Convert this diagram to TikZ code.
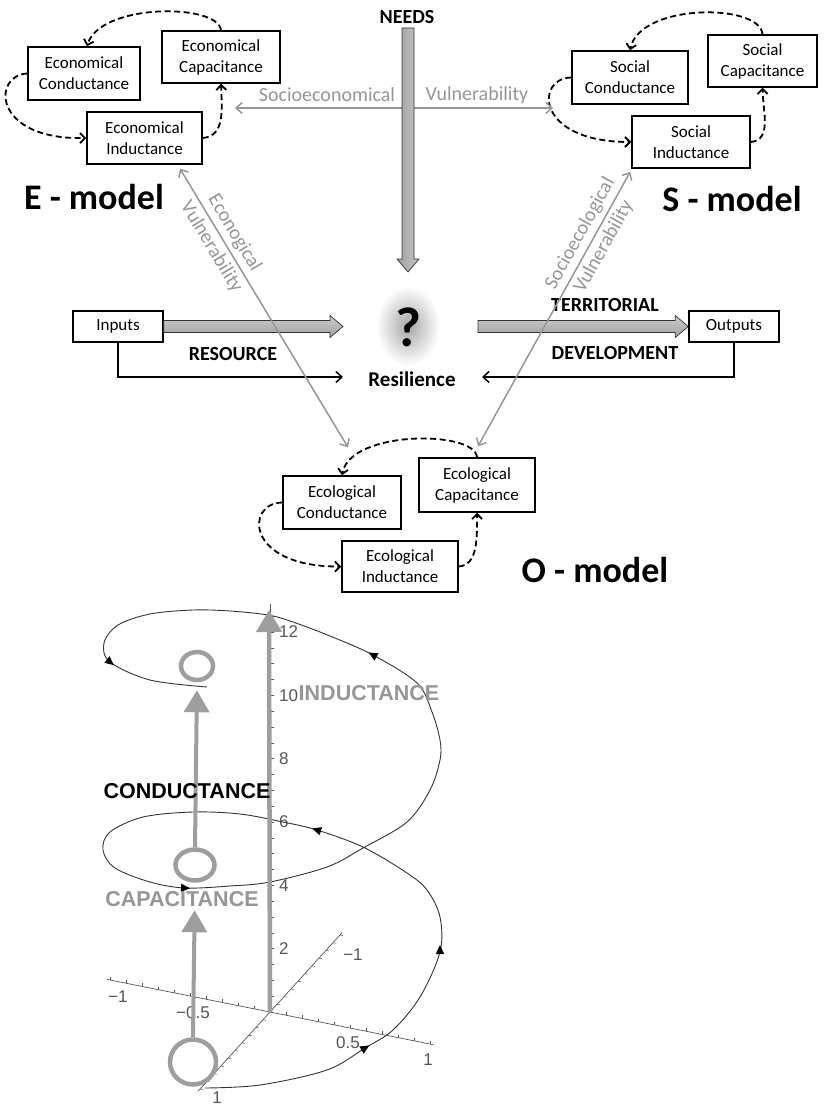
\documentclass[tikz,border=0pt]{standalone}
\usepackage{fontspec}
\setmainfont{Carlito}
\newfontfamily\helv{Liberation Sans}
\usetikzlibrary{arrows.meta,calc,shapes.geometric}
\definecolor{vgray}{RGB}{150,150,150}
\definecolor{pgray}{RGB}{158,158,158}
\definecolor{axgray}{RGB}{85,85,85}
\newcommand{\blockH}[2]{\path[blockh] ($(#1)+(0,-6)$) -- ($(#2)+(-13,-6)$) -- ($(#2)+(-13,-11)$) -- (#2) -- ($(#2)+(-13,11)$) -- ($(#2)+(-13,6)$) -- ($(#1)+(0,6)$) -- cycle;}
\newcommand{\blockV}[2]{\path[blockv] ($(#1)+(-6,0)$) -- ($(#2)+(-6,-13)$) -- ($(#2)+(-11,-13)$) -- (#2) -- ($(#2)+(11,-13)$) -- ($(#2)+(6,-13)$) -- ($(#1)+(6,0)$) -- cycle;}
\begin{document}
\begin{tikzpicture}[x=1pt,y=-1pt,
  box/.style={draw,line width=1.5pt,align=center,inner sep=0pt,font=\fontsize{17}{21}\selectfont},
  dashlink/.style={line width=1.8pt,dash pattern=on 6pt off 3.5pt,-{Straight Barb[length=5pt,width=10pt]}},
  vuln/.style={vgray,line width=1.5pt,{Straight Barb[length=6pt,width=11pt]}-{Straight Barb[length=6pt,width=11pt]}},
  vlabel/.style={text=vgray,font=\fontsize{20}{22}\selectfont,align=center,inner sep=0pt},
  rlabel/.style={text=vgray,font=\fontsize{20}{27}\selectfont,align=center,inner sep=0pt},
  blabel/.style={font=\bfseries\fontsize{20}{24}\selectfont,inner sep=0pt},
  model/.style={font=\bfseries\fontsize{36}{40}\selectfont,inner sep=0pt},
  thinarrow/.style={line width=1.5pt,-{Straight Barb[length=6pt,width=11pt]}},
  blockh/.style={draw=black!80,line width=0.7pt,top color=gray!40,bottom color=gray!75},
  blockv/.style={draw=black!80,line width=0.7pt,left color=gray!75,right color=gray!45},
  ring/.style={ellipse,draw=pgray,line width=4.5pt,inner sep=0pt},
  plotlab/.style={text=axgray,font=\helv\fontsize{17}{18}\selectfont,inner sep=0pt},
  biglab/.style={font=\helv\bfseries\fontsize{21.5}{24}\selectfont,inner sep=0pt},
  thickgray/.style={pgray,line width=4.5pt,-{Triangle[width=25pt,length=22pt]}},
  axis/.style={axgray,line width=0.7pt}
]
\useasboundingbox (0,0) rectangle (824,1107);

% ---------- E model ----------
\node[box,minimum width=112pt,minimum height=53pt] (condE) at (84,73.5) {Economical\\Conductance};
\node[box,minimum width=118pt,minimum height=52pt] (capE) at (221,57) {Economical\\Capacitance};
\node[box,minimum width=115pt,minimum height=52pt] (indE) at (144.5,138) {Economical\\Inductance};
\draw[dashlink] (capE.north) .. controls (218,3) and (100,3) .. ([xshift=3pt]condE.north);
\draw[dashlink] (condE.west) .. controls (-8,75) and (-8,140) .. (indE.west);
\draw[dashlink] (indE.east) .. controls (225,136) and (222,110) .. (capE.south);
\node[model] (emodel) at (94,197) {E - model};

% ---------- S model ----------
\node[box,minimum width=116pt,minimum height=53pt] (condS) at (630,77.5) {Social\\Conductance};
\node[box,minimum width=109pt,minimum height=52pt] (capS) at (762.5,61) {Social\\Capacitance};
\node[box,minimum width=118pt,minimum height=52pt] (indS) at (691,142) {Social\\Inductance};
\draw[dashlink] (capS.north) .. controls (760,3) and (640,3) .. (condS.north);
\draw[dashlink] (condS.west) .. controls (535,78) and (535,142) .. (indS.west);
\draw[dashlink] (indS.east) .. controls (772,140) and (763,112) .. (capS.south);
\node[model] (smodel) at (732,199) {S - model};

% ---------- O model ----------
\node[box,minimum width=118pt,minimum height=53pt] (condO) at (342,502.5) {Ecological\\Conductance};
\node[box,minimum width=116pt,minimum height=54pt] (capO) at (477,485) {Ecological\\Capacitance};
\node[box,minimum width=116pt,minimum height=51pt] (indO) at (400,566.5) {Ecological\\Inductance};
\draw[dashlink] (capO.north) .. controls (475,430) and (350,430) .. (condO.north);
\draw[dashlink] (condO.west) .. controls (245,503) and (245,567) .. (indO.west);
\draw[dashlink] (indO.east) .. controls (478,565) and (477,538) .. (capO.south);
\node[model] (omodel) at (595,570) {O - model};

% ---------- centre ----------
\coordinate (seL) at (235,108);
\coordinate (seR) at (553,108);
\draw[vuln] (seL) -- (seR);
\node[vlabel] (socioeco) at (327,95) {Socioeconomical};
\node[vlabel] (socioeco2) at (477,95) {Vulnerability};

\node[blabel] (needs) at (407,17) {NEEDS};
\coordinate (needsTop) at (408,28);
\coordinate (needsTip) at (408,272);
\blockV{needsTop}{needsTip}

\shade[inner color=gray!70,outer color=white] (408,326) ellipse (32pt and 40pt);
\node[font=\bfseries\fontsize{56}{60}\selectfont,inner sep=0pt] (q) at (408,327) {?};
\node[font=\bfseries\fontsize{21}{24}\selectfont,inner sep=0pt] (res) at (412,379) {Resilience};

\node[box,minimum width=90pt,minimum height=31pt] (inputs) at (118,326.5) {Inputs};
\node[box,minimum width=90pt,minimum height=31pt] (outputs) at (734,326.5) {Outputs};
\coordinate (inTip) at (343,326.5);
\coordinate (outStart) at (478,326.5);
\blockH{inputs.east}{inTip}
\blockH{outStart}{outputs.west}
\coordinate (resL) at (343,377);
\coordinate (resR) at (482,377);
\draw[thinarrow] (inputs.south) |- (resL);
\draw[thinarrow] (outputs.south) |- (resR);
\node[blabel] (resource) at (233,354) {RESOURCE};
\node[blabel] (territorial) at (605,305) {TERRITORIAL};
\node[blabel] (development) at (615,353) {DEVELOPMENT};

\draw[vuln] ($(indE.south)+(35.5,4)$) -- ($(condO.north)+(6,-28)$);
\draw[vuln] ($(indS.south west)+(-1,3)$) -- ($(capO.north)+(1,-11)$);
\node[rlabel,rotate=-59] (econvul) at (223,240) {Econogical\\Vulnerability};
\node[rlabel,rotate=61] (sociovul) at (592,240) {Socioecological\\Vulnerability};

% ---------- 3D plot ----------
\coordinate (O) at (270,1012);
% x axis
\draw[axis] ($(O)+(-1.02*160,-1.02*32)$) -- ($(O)+(1.02*160,1.02*32)$);
\foreach \t in {-1,-0.9,...,1.01} \draw[axis,line width=0.5pt] ($(O)+(\t*160,\t*32)$) -- ++(0,-3);
% y axis
\draw[axis] ($(O)+(-1.03*-70,-1.03*77)$) -- ($(O)+(1.03*-70,1.03*77)$);
\foreach \t in {-1,-0.9,...,1.01} \draw[axis,line width=0.5pt] ($(O)+(\t*-70,\t*77)$) -- ++(3,0.6);
% z axis
\draw[axis] (O) -- (270,604);
\foreach \z in {0.5,1,...,12.5} \draw[axis,line width=0.5pt] (270,{1012-31.67*\z}) -- ++(4,0);
\foreach \z in {2,4,...,12} \node[plotlab,anchor=west] at (279,{1012-31.67*\z}) {\z};
\node[plotlab] at (118,997) {−1};
\node[plotlab] at (193,1013) {−0.5};
\node[plotlab] at (348,1043) {0.5};
\node[plotlab] at (428,1060) {1};
\node[plotlab] at (353,955) {−1};
\node[plotlab] at (217,1098) {1};

% helix
\draw[black!80,line width=0.9pt] plot[smooth,tension=0.55] coordinates {
 (205,1088) (260,1085) (327,1070) (365,1048) (393,1030) (420,997) (440,952) (440,917) (427,890) (407,873)
 (363,847) (317,830) (283,822) (240,814) (193,812) (143,817) (110,832) (103,850) (115,868) (150,882)
 (185,888) (230,886) (270,882) (327,867) (363,848) (407,822) (430,790) (440,760) (440,740) (432,712)
 (417,683) (373,655) (330,636) (293,622) (268,615) (230,611) (193,610) (150,614) (118,625) (104,643)
 (110,662) (150,680) (207,687)};
\foreach \px/\py/\a in {365/1048/31, 440/950/90, 317/830/163, 185/888/-3, 373/655/151, 110/662/-39}
  \fill[black,shift={(\px,\py)},rotate=\a] (5,0) -- (-4,4.2) -- (-4,-4.2) -- cycle;

% z arrow
\coordinate (ztop) at (269,610);
\draw[thickgray] (O) -- (ztop);

% rings
\node[ring,minimum width=32pt,minimum height=28pt] (ringT) at (197,666) {};
\node[ring,minimum width=39pt,minimum height=31pt] (ringM) at (195,865) {};
\node[ring,minimum width=46pt,minimum height=45pt] (ringB) at (193,1062) {};
\draw[thickgray,line width=4pt,shorten >=8pt] (ringM.north) -- (ringT.south);
\draw[thickgray,line width=4pt,shorten >=27.5pt] (ringB.north) -- (ringM.south);

\node[biglab,text=vgray] (indlab) at (369,693) {INDUCTANCE};
\node[biglab] (condlab) at (187,791) {CONDUCTANCE};
\node[biglab,text=vgray] (caplab) at (182,899) {CAPACITANCE};
\end{tikzpicture}
\end{document}
